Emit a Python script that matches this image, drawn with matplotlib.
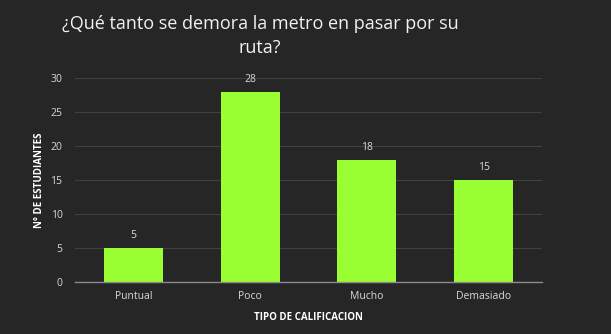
import matplotlib
matplotlib.use("Agg")
import matplotlib.pyplot as plt

categories = ["Puntual", "Poco", "Mucho", "Demasiado"]
values = [5, 28, 18, 15]
yticks = [0, 5, 10, 15, 20, 25, 30]

bg = "#262626"
bar_color = "#99FF33"
txt = "#D9D9D9"

plt.rcParams['font.family'] = ['Open Sans', 'DejaVu Sans']

fig = plt.figure(figsize=(6.11, 3.34), dpi=100, facecolor=bg)
ax = fig.add_axes([0.1227, 0.1566, 0.7643, 0.609], facecolor=bg)

x = list(range(len(categories)))
ax.bar(x, values, width=0.505, color=bar_color, zorder=3)
for xi, v in zip(x, values):
    ax.text(xi, v + 1.0, str(v), ha="center", va="bottom", color=txt, fontsize=7.5)

ax.set_xlim(-0.5, len(categories) - 0.5)
ax.set_ylim(0, 30)
ax.set_yticks(yticks)
ax.set_xticks(x)
ax.set_xticklabels(categories)
ax.tick_params(axis="both", length=0, colors=txt, labelsize=7.5)
ax.tick_params(axis="y", pad=9)
ax.tick_params(axis="x", pad=7)
ax.yaxis.grid(True, color="#404040", linewidth=0.8, zorder=0)
for s in ["top", "right", "left"]:
    ax.spines[s].set_visible(False)
ax.spines["bottom"].set_color("#8C8C8C")
ax.spines["bottom"].set_linewidth(1)
ax.spines["bottom"].set_zorder(4)

ax.set_xlabel("TIPO DE CALIFICACION", color="white", fontsize=7, fontweight="bold", labelpad=7)
ax.set_ylabel("N° DE ESTUDIANTES", color="white", fontsize=7, fontweight="bold", labelpad=4)

fig.text(0.4255, 0.955, "¿Qué tanto se demora la metro en pasar por su\nruta?", ha="center", va="top",
         color="#F2F2F2", fontsize=13, linespacing=1.45)

fig.savefig("out.png", dpi=100, facecolor=bg)
